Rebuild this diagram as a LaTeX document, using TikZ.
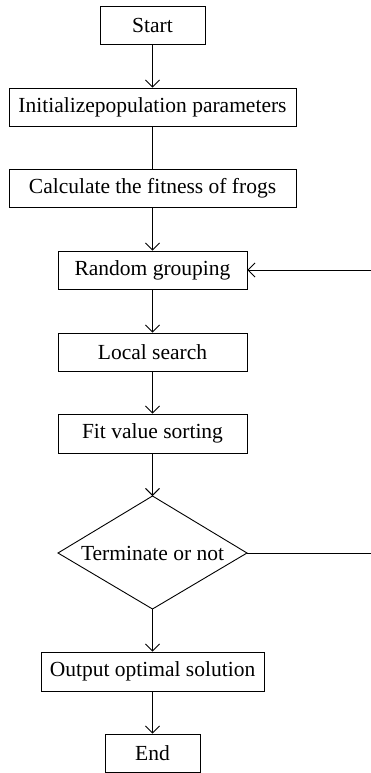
\documentclass[tikz,border=0pt]{standalone}
\usepackage{fontspec}
\setmainfont{Liberation Serif}
\usetikzlibrary{arrows.meta}
\begin{document}
\begin{tikzpicture}[x=1pt,y=-1pt,
  line width=0.9pt,
  every node/.style={font=\fontsize{21.5}{23}\selectfont},
  procbox/.style={draw, rectangle, inner sep=0pt, minimum height=38pt},
  flow/.style={-{Straight Barb[length=7pt,width=14pt,line width=0.9pt]}},
  plain/.style={-}]
  \useasboundingbox (0,0) rectangle (371,773);
  % process steps, top to bottom
  \node[procbox, minimum width=105pt] (start)  at (152.5,25)    {Start};
  \node[procbox, minimum width=287pt] (init)   at (152.5,107)   {Initializepopulation parameters};
  \node[procbox, minimum width=287pt] (calc)   at (152.5,188)   {Calculate the fitness of frogs};
  \node[procbox, minimum width=189pt] (group)  at (152.5,270)   {Random grouping};
  \node[procbox, minimum width=189pt] (local)  at (152.5,352)   {Local search};
  \node[procbox, minimum width=189pt, minimum height=39pt] (sort) at (152.5,433.5) {Fit value sorting};
  % decision: text node with its diamond outline drawn from four corners
  \node[inner sep=0pt] (term) at (152.5,553) {Terminate or not};
  \coordinate (termN) at (152.5,496);
  \coordinate (termE) at (247,553);
  \coordinate (termS) at (152.5,609);
  \coordinate (termW) at (58,553);
  \draw (termN) -- (termE) -- (termS) -- (termW) -- cycle;
  \node[procbox, minimum width=223pt, minimum height=39pt] (output) at (152.5,671.5) {Output optimal solution};
  \node[procbox, minimum width=95pt] (end) at (152.5,753) {End};
  % loop-back ends at the right margin
  \coordinate (loopin)  at (371,270);
  \coordinate (loopout) at (371,553);
  % connectors
  \draw[flow]  (start) -- (init);
  \draw[plain] (init) -- (calc);
  \draw[flow]  (calc) -- (group);
  \draw[flow]  (group) -- (local);
  \draw[flow]  (local) -- (sort);
  \draw[flow]  (sort) -- (termN);
  \draw[flow]  (termS) -- (output);
  \draw[flow]  (output) -- (end);
  \draw[plain] (termE) -- (loopout);
  \draw[flow]  (loopin) -- (group.east);
\end{tikzpicture}
\end{document}
